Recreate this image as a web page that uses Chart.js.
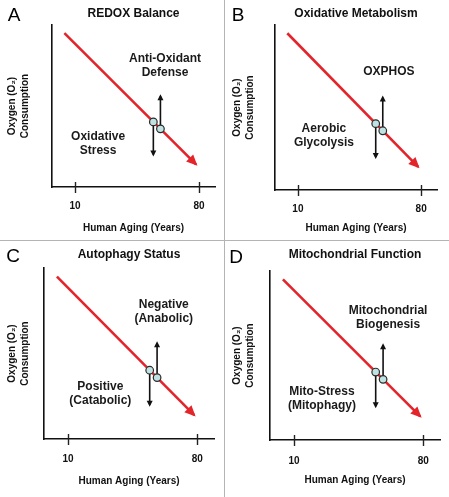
<!DOCTYPE html>
<html>
<head>
<meta charset="utf-8">
<script src="https://cdn.jsdelivr.net/npm/chart.js@4.4.0/dist/chart.umd.min.js"></script>
<style>
  html, body { margin: 0; padding: 0; background: #fff; }
  #fig { position: relative; width: 449px; height: 497px; overflow: hidden; }
  canvas { position: absolute; }
  .sep { position: absolute; background: #b4b4b4; }
</style>
</head>
<body>
<div id="fig">
  <canvas id="pA" width="224" height="240" style="left:0;top:0"></canvas>
  <canvas id="pB" width="224" height="240" style="left:225px;top:0"></canvas>
  <canvas id="pC" width="224" height="256" style="left:0;top:241px"></canvas>
  <canvas id="pD" width="224" height="256" style="left:225px;top:241px"></canvas>
  <div class="sep" style="left:224px;top:0;width:1px;height:497px"></div>
  <div class="sep" style="left:0;top:240px;width:449px;height:1px"></div>
</div>
<script>
// ---- data (schematic units) ----
var years = [10, 80];                 // x tick labels
var ageMin = -3, ageMax = 89;
var trendX = [4, 78.3];               // red O2 consumption line
var trendY = [95, 14];
var markerX = [54.2, 58.2];           // the two circles on the line
var markerY = [40.2, 35.9];
var downY = [40.2, 20];               // arrow down from first circle
var upY = [35.9, 56];                 // arrow up from second circle

var letters = ['A', 'B', 'C', 'D'];
var titles = ['REDOX Balance', 'Oxidative Metabolism', 'Autophagy Status', 'Mitochondrial Function'];
var upText = [['Anti-Oxidant', 'Defense'], ['OXPHOS'], ['Negative', '(Anabolic)'], ['Mitochondrial', 'Biogenesis']];
var downText = [['Oxidative', 'Stress'], ['Aerobic', 'Glycolysis'], ['Positive', '(Catabolic)'], ['Mito-Stress', '(Mitophagy)']];

// ---- per panel layout (canvas pixels) ----
var geom = [
  { id: 'pA', W: 224, H: 240, left: 52, top: 25, right: 215, bottom: 187, tick: 206, xt: 228, tt: 14, letter: [14, 16], up: [60.8, 74.7], down: [23, 26.9] },
  { id: 'pB', W: 224, H: 240, left: 50, top: 25, right: 212, bottom: 190, tick: 209, xt: 228, tt: 14, letter: [13, 16], up: [61.7, 71.5], down: [24.8, 33] },
  { id: 'pC', W: 224, H: 256, left: 44, top: 27, right: 214, bottom: 198, tick: 218, xt: 240, tt: 14, letter: [13, 16], up: [61.8, 74.6], down: [27.5, 26.3] },
  { id: 'pD', W: 224, H: 256, left: 45, top: 30, right: 215, bottom: 199, tick: 220, xt: 239, tt: 14, letter: [11, 17], up: [60.9, 72.5], down: [25.1, 24.3] }
];

Chart.defaults.font.family = "'Liberation Sans', Arial, Helvetica, sans-serif";
Chart.defaults.color = '#111';

function pts(xs, ys) {
  return xs.map(function (x, i) { return { x: x, y: ys[i] }; });
}

// arrow heads at the end of datasets that ask for one
var arrowPlugin = {
  id: 'arrows',
  afterDatasetsDraw: function (chart) {
    var ctx = chart.ctx;
    chart.data.datasets.forEach(function (ds, i) {
      if (!ds.arrowHead) return;
      var el = chart.getDatasetMeta(i).data;
      var a = el[el.length - 2], b = el[el.length - 1];
      var ang = Math.atan2(b.y - a.y, b.x - a.x);
      var len = ds.arrowHead[0], half = ds.arrowHead[1] / 2;
      var tx = b.x + Math.cos(ang) * 2, ty = b.y + Math.sin(ang) * 2;
      ctx.save();
      ctx.translate(tx, ty);
      ctx.rotate(ang);
      ctx.beginPath();
      ctx.moveTo(0, 0);
      ctx.lineTo(-len, -half);
      ctx.lineTo(-len, half);
      ctx.closePath();
      ctx.fillStyle = ds.borderColor;
      ctx.fill();
      ctx.restore();
    });
  }
};

// tick marks crossing the x axis, panel letter, annotations
var textPlugin = {
  id: 'texts',
  afterDraw: function (chart) {
    var ctx = chart.ctx, o = chart.options.plugins.texts;
    var xs = chart.scales.x, ys = chart.scales.y;
    ctx.save();
    ctx.strokeStyle = '#222';
    ctx.lineWidth = 1.4;
    xs.ticks.forEach(function (t) {
      var px = Math.round(xs.getPixelForValue(t.value)) + 0.5;
      ctx.beginPath();
      ctx.moveTo(px, xs.top - 5);
      ctx.lineTo(px, xs.top + 6);
      ctx.stroke();
    });
    ctx.fillStyle = '#000';
    ctx.textAlign = 'center';
    ctx.textBaseline = 'middle';
    ctx.font = "19px 'Liberation Sans', Arial, sans-serif";
    ctx.fillText(o.letter, o.letterPos[0], o.letterPos[1]);
    ctx.fillStyle = '#1a1a1a';
    ctx.font = "bold 12px 'Liberation Sans', Arial, sans-serif";
    [[o.up, o.upPos], [o.down, o.downPos]].forEach(function (p) {
      var cx = xs.getPixelForValue(p[1][0]);
      var cy = ys.getPixelForValue(p[1][1]);
      var n = p[0].length, lh = 14;
      p[0].forEach(function (line, j) {
        ctx.fillText(line, cx, cy + (j - (n - 1) / 2) * lh);
      });
    });
    ctx.restore();
  }
};

geom.forEach(function (g, k) {
  var tickPad = g.tick - g.bottom - 6;
  var xtBottom = g.H - 6 - g.xt;
  // the scale counts the tick padding twice when sizing, so take it back from the title
  var xtTop = g.H - g.bottom - 24 - 2 * tickPad - xtBottom;
  new Chart(document.getElementById(g.id), {
    type: 'scatter',
    data: {
      datasets: [
        {
          data: pts(markerX, markerY),
          pointRadius: 3.8,
          pointBackgroundColor: '#bfe2e3',
          pointBorderColor: '#2a2a2a',
          pointBorderWidth: 1.2,
          order: 0
        },
        {
          data: pts([markerX[0], markerX[0]], downY),
          showLine: true,
          borderColor: '#111',
          borderWidth: 1.6,
          pointRadius: 0,
          order: 1,
          arrowHead: [6, 6]
        },
        {
          data: pts([markerX[1], markerX[1]], upY),
          showLine: true,
          borderColor: '#111',
          borderWidth: 1.6,
          pointRadius: 0,
          order: 1,
          arrowHead: [6, 6]
        },
        {
          data: pts(trendX, trendY),
          showLine: true,
          borderColor: '#e3242b',
          borderWidth: 2.6,
          pointRadius: 0,
          order: 2,
          arrowHead: [11, 10]
        }
      ]
    },
    options: {
      responsive: false,
      animation: false,
      events: [],
      layout: { padding: { left: 0, top: 0, bottom: 0, right: g.W - g.right } },
      plugins: {
        legend: { display: false },
        tooltip: { enabled: false },
        title: {
          display: true,
          text: titles[k],
          fullSize: false,
          color: '#111',
          font: { size: 12, weight: 'bold' },
          padding: { top: g.tt - 7.2, bottom: g.top - g.tt - 7.2 }
        },
        texts: {
          letter: letters[k], letterPos: g.letter,
          up: upText[k], upPos: g.up,
          down: downText[k], downPos: g.down
        }
      },
      scales: {
        x: {
          type: 'linear',
          min: ageMin,
          max: ageMax,
          afterBuildTicks: function (s) { s.ticks = years.map(function (v) { return { value: v }; }); },
          grid: { display: false, drawTicks: false },
          border: { color: '#111', width: 1.6 },
          ticks: { padding: tickPad, color: '#111', font: { size: 10, weight: 'bold' } },
          title: {
            display: true,
            text: 'Human Aging (Years)',
            color: '#111',
            font: { size: 10, weight: 'bold' },
            padding: { top: xtTop, bottom: xtBottom }
          }
        },
        y: {
          min: 0,
          max: 100,
          grid: { display: false, drawTicks: false },
          ticks: { display: false },
          border: { color: '#111', width: 1.6 },
          title: {
            display: true,
            text: ['Oxygen (O\u2082)', 'Consumption'],
            color: '#111',
            font: { size: 10, weight: 'bold', lineHeight: 1.3 },
            padding: { top: 5.5, bottom: g.left - 31.5 }
          }
        }
      }
    },
    plugins: [arrowPlugin, textPlugin]
  });
});
</script>
</body>
</html>
